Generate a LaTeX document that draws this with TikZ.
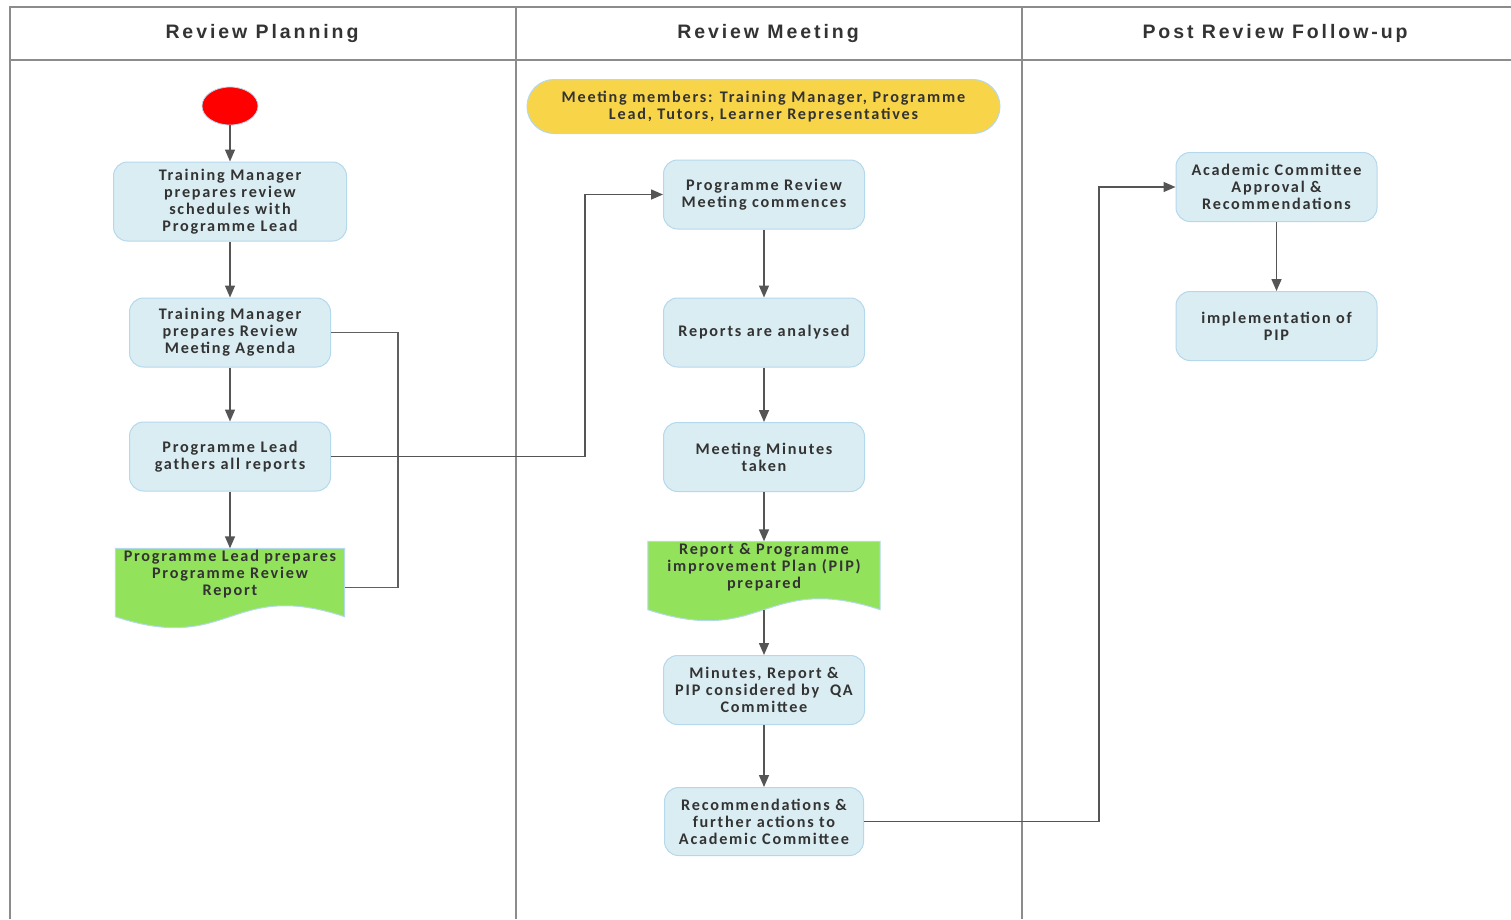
\documentclass[tikz,border=0pt]{standalone}
\usepackage{fontspec}
\newfontfamily\boxfamily{Carlito}[LetterSpace=11]
\newfontfamily\headfamily{Liberation Sans}[LetterSpace=15]
\usetikzlibrary{shapes.geometric,arrows.meta,calc,backgrounds}
\definecolor{boxfill}{HTML}{DAEDF3}
\definecolor{boxline}{HTML}{B4D8EC}
\definecolor{docfill}{HTML}{93E25C}
\definecolor{pillfill}{HTML}{F8D548}
\definecolor{txt}{HTML}{333333}
\definecolor{arrowc}{HTML}{555555}
\definecolor{linkc}{HTML}{606060}
\definecolor{framec}{HTML}{8C8C8C}
\tikzset{
  boxtext/.style={font=\boxfamily\bfseries\fontsize{16.2}{17}\selectfont, text=txt, align=center, inner sep=0pt},
  proc/.style={boxtext, rounded corners=14pt, fill=boxfill, draw=boxline, line width=1pt,
               minimum width=201pt, minimum height=69pt},
  wideproc/.style={proc, minimum width=233pt, minimum height=79pt},
  docnode/.style={boxtext, minimum height=52pt},
  pill/.style={boxtext, rounded corners=27pt, fill=pillfill, draw=boxline, line width=1pt,
               minimum width=473pt, minimum height=54pt},
  startnode/.style={ellipse, fill=red, draw=boxline, line width=0.8pt, minimum width=56pt, minimum height=38pt, inner sep=0pt},
  head/.style={font=\headfamily\bfseries\fontsize{19.5}{22}\selectfont, text=txt, inner sep=0pt},
  frame/.style={draw=framec, line width=1.6pt},
  arr/.style={draw=arrowc, line width=1.5pt, -{Triangle[length=12pt,width=10pt]}},
  link/.style={draw=linkc, line width=1.3pt},
}
\begin{document}
\begin{tikzpicture}[x=1pt,y=-1pt]
\useasboundingbox (0,0) rectangle (1511,919);
% frame
\draw[frame] (10,919) -- (10,7) -- (1511,7);
\draw[frame] (10,60) -- (1511,60);
\draw[frame] (516,7) -- (516,919);
\draw[frame] (1022,7) -- (1022,919);
\node[head] (h1) at (262,33) {Review Planning};
\node[head] (h2) at (768,33) {Review Meeting};
\node[head] (h3) at (1275,33) {Post Review Follow-up};
% lane 1
\node[startnode] (s) at (230,106) {};
\node[wideproc] (p1) at (230,201.5) {Training Manager\\prepares review\\schedules with\\Programme Lead};
\node[proc] (p2) at (230,332.5) {Training Manager\\prepares Review\\Meeting Agenda};
\node[proc] (p3) at (230,456.5) {Programme Lead\\gathers all reports};
\node[docnode, minimum width=229pt] (d1) at (230,574.5) {Programme Lead prepares\\Programme Review\\Report};
% lane 2
\node[pill] (pl) at (763.5,106.5) {Meeting members: Training Manager, Programme\\Lead, Tutors, Learner Representatives};
\node[proc] (m1) at (764,194.5) {Programme Review\\Meeting commences};
\node[proc] (m2) at (764,332.5) {Reports are analysed};
\node[proc] (m3) at (764,457) {Meeting Minutes\\taken};
\node[docnode, minimum width=232pt] (d2) at (764,567.5) {Report \& Programme\\improvement Plan (PIP)\\prepared};
\node[proc] (m5) at (764,690) {Minutes, Report \&\\PIP considered by\ \ QA\\Committee};
\node[proc, minimum width=199pt, minimum height=68pt] (m6) at (764,821.5) {Recommendations \&\\further actions to\\Academic Committee};
% lane 3
\node[proc] (a1) at (1276.5,187) {Academic Committee\\Approval \&\\Recommendations};
\node[proc] (a2) at (1276.5,326) {implementation of\\PIP};
% document shapes
\begin{scope}[on background layer]
\filldraw[fill=docfill, draw=boxline, line width=1pt]
  (d1.north west) -- (d1.north east) -- ($(d1.south east)+(0,16)$)
  .. controls +(-114.5,-38) and +(114.5,38) .. ($(d1.south west)+(0,16)$) -- cycle;
\filldraw[fill=docfill, draw=boxline, line width=1pt]
  (d2.north west) -- (d2.north east) -- ($(d2.south east)+(0,16)$)
  .. controls +(-116,-38) and +(116,38) .. ($(d2.south west)+(0,16)$) -- cycle;
\end{scope}
\coordinate (d2b) at ($(d2.south)+(0,16)$);
% arrows lane 1
\draw[arr] (s) -- (p1);
\draw[arr] (p1) -- (p2);
\draw[arr] (p2) -- (p3);
\draw[arr] (p3) -- (d1);
\draw[link] (p2.east) -- ++(67,0) |- ($(d1.east)+(0,13)$);
\draw[arr] (p3.east) -- (585,456.5) |- (m1.west);
% arrows lane 2
\draw[arr] (m1) -- (m2);
\draw[arr] (m2) -- (m3);
\draw[arr] (m3) -- (d2);
\draw[arr] (d2b) -- (m5);
\draw[arr] (m5) -- (m6);
\draw[arr] (m6.east) -- (1099,821.5) |- (a1.west);
% lane 3
\draw[arr] (a1) -- (a2);
\end{tikzpicture}
\end{document}
